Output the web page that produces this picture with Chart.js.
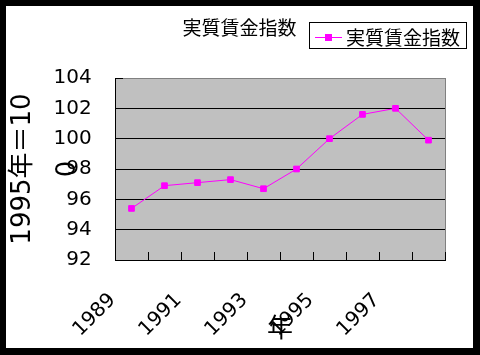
<!DOCTYPE html>
<html>
<head>
<meta charset="utf-8">
<script src="https://cdn.jsdelivr.net/npm/chart.js@4/dist/chart.umd.min.js"></script>
<style>
  body { margin: 0; background: #000; width: 480px; height: 355px; overflow: hidden; }
  #frame { position: absolute; left: 6px; top: 6px; width: 467px; height: 342px; background: #fff; }
</style>
</head>
<body>
<div id="frame"><canvas id="wageChart" width="467" height="342"></canvas></div>
<script>
// data
const years = ['1989', '1990', '1991', '1992', '1993', '1994', '1995', '1996', '1997', '1998'];
const wageIndex = [95.4, 96.9, 97.1, 97.3, 96.7, 98.0, 100.0, 101.6, 102.0, 99.9];
const seriesName = '実質賃金指数';
const yTitle = ['1995年＝10', '0'];   // wraps like the original
const xTitle = '年';

const cjk = "'Noto Sans CJK JP', 'Noto Sans CJK SC', sans-serif";
const num = "'DejaVu Sans', 'Noto Sans CJK JP', sans-serif";

// legend marker: line with a square in the middle
const marker = document.createElement('canvas');
marker.width = 33; marker.height = 9;
(function () {
    const m = marker.getContext('2d');
    m.strokeStyle = '#ff00ff';
    m.lineWidth = 1;
    m.beginPath(); m.moveTo(6, 4.5); m.lineTo(33, 4.5); m.stroke();
    m.fillStyle = '#ff00ff';
    m.fillRect(16, 1, 7, 7);
})();

// grey plot area with grey top/right edge
const plotBg = {
    id: 'plotBg',
    beforeDraw(chart) {
        const a = chart.chartArea, ctx = chart.ctx;
        ctx.save();
        ctx.fillStyle = '#c0c0c0';
        ctx.fillRect(a.left, a.top, a.right - a.left, a.bottom - a.top);
        ctx.strokeStyle = '#808080';
        ctx.lineWidth = 1;
        ctx.strokeRect(Math.round(a.left) + 0.5, Math.round(a.top) + 0.5,
                       Math.round(a.right - a.left), Math.round(a.bottom - a.top));
        ctx.restore();
    }
};

// box round the legend item
const legendBox = {
    id: 'legendBox',
    afterDraw(chart) {
        const hb = chart.legend.legendHitBoxes[0];
        if (!hb) return;
        const ctx = chart.ctx;
        ctx.save();
        ctx.strokeStyle = '#000';
        ctx.lineWidth = 1;
        const x = Math.round(hb.left - 5) + 0.5, y = Math.round(hb.top - 6) + 0.5;
        ctx.strokeRect(x, y, Math.round(hb.width + 11), Math.round(hb.height + 7));
        ctx.restore();
    }
};

new Chart(document.getElementById('wageChart'), {
    type: 'line',
    data: {
        labels: years,
        datasets: [{
            label: seriesName,
            data: wageIndex,
            borderColor: '#ff00ff',
            backgroundColor: '#ff00ff',
            borderWidth: 1,
            tension: 0,
            pointStyle: 'rect',
            pointRadius: 4,
            pointBorderWidth: 1,
            pointBorderColor: '#ff00ff',
            pointBackgroundColor: '#ff00ff'
        }]
    },
    options: {
        responsive: false,
        animation: false,
        devicePixelRatio: 1,
        layout: { padding: 0 },
        plugins: {
            // title sits under the legend box-wise but is drawn up beside it
            title: {
                display: true,
                weight: 500,
                text: seriesName,
                color: '#000',
                font: { family: cjk, size: 19, weight: 'normal', lineHeight: 1.2 },
                padding: { top: -40.4, bottom: 38.6 }
            },
            legend: {
                position: 'top',
                align: 'end',
                title: { display: true, text: ' ', font: { size: 9, lineHeight: 1 }, padding: 0 },
                labels: {
                    color: '#000',
                    font: { family: cjk, size: 19 },
                    padding: 13,
                    usePointStyle: true,
                    pointStyle: marker,
                    pointStyleWidth: 22
                }
            },
            tooltip: { enabled: false }
        },
        scales: {
            x: {
                offset: true,
                grid: {
                    display: true,
                    offset: true,
                    drawOnChartArea: false,
                    drawTicks: true,
                    tickLength: -8,
                    color: '#000'
                },
                border: { display: true, color: '#000', width: 1 },
                ticks: {
                    color: '#000',
                    font: { family: num, size: 20 },
                    minRotation: 45,
                    maxRotation: 45,
                    autoSkip: false,
                    padding: 36.5,
                    labelOffset: -19,
                    callback: function (value, index) {
                        return index % 2 === 0 ? this.getLabelForValue(value) : '';
                    }
                },
                title: {
                    display: true,
                    text: xTitle,
                    color: '#000',
                    font: { family: cjk, size: 26, lineHeight: 1.2 },
                    padding: { top: 0, bottom: 5.4 }
                },
                afterFit(scale) {
                    scale.height = 88;
                    scale.paddingRight = 28;
                }
            },
            y: {
                min: 92,
                max: 104,
                grid: {
                    color: ctx => (ctx.tick && ctx.tick.value === 104) ? 'rgba(0,0,0,0)' : '#000',
                    tickColor: '#000',
                    drawTicks: true,
                    tickLength: -8,
                    lineWidth: 1
                },
                border: { display: true, color: '#000', width: 1 },
                ticks: {
                    stepSize: 2,
                    color: '#000',
                    font: { family: num, size: 20 },
                    padding: 31.3
                },
                title: {
                    display: true,
                    text: yTitle,
                    color: '#000',
                    font: { family: num, size: 26, lineHeight: 44.5 / 26 },
                    padding: { top: -4.75, bottom: 0 }
                },
                afterFit(scale) {
                    scale.width = 109;
                }
            }
        }
    },
    plugins: [plotBg, legendBox]
});
</script>
</body>
</html>
